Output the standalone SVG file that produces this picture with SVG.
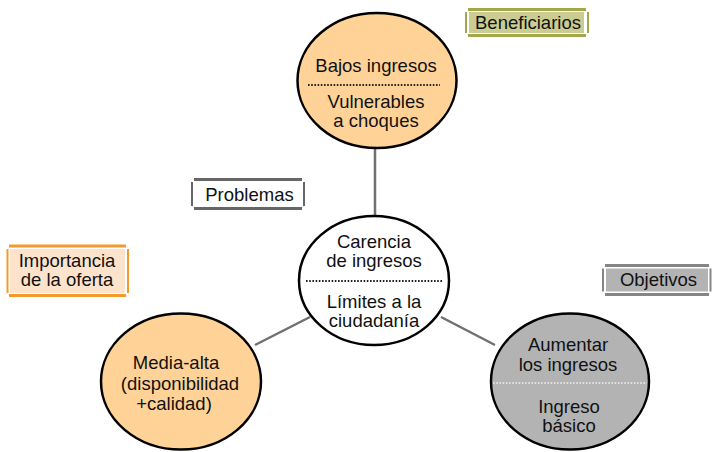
<svg xmlns="http://www.w3.org/2000/svg" width="713" height="452" viewBox="0 0 713 452">
<style>
text{font-family:"Liberation Sans",Arial,sans-serif;font-size:18.5px;fill:#111;text-anchor:middle}
.ell{stroke:#000;stroke-width:2.5}
.orange{fill:#FFD398}
.gray{fill:#B3B3B3}
.white{fill:#fff}
.dots{stroke:#222;stroke-width:2;stroke-dasharray:1.6 1.6;fill:none}
.dotsw{stroke:#E0E0E0;stroke-width:2;stroke-dasharray:1.6 1.6;fill:none}
.conn{stroke:#707070;stroke-width:2.5;fill:none}
.tb{stroke-width:3;fill:none}
.sd{stroke-width:2;fill:none}
</style>
<g id="connectors">
<line class="conn" x1="375" y1="148" x2="375" y2="216"/>
<line class="conn" x1="255" y1="345" x2="310" y2="317"/>
<line class="conn" x1="441" y1="317" x2="495" y2="345"/>
</g>
<g id="node-top">
<ellipse class="ell orange" cx="377" cy="80.5" rx="79.5" ry="67.5"/>
<line class="dots" x1="308" y1="85" x2="440" y2="85"/>
<text x="376" y="72">Bajos ingresos</text>
<text x="376" y="108">Vulnerables</text>
<text x="376" y="127">a choques</text>
</g>
<g id="node-center">
<ellipse class="ell white" cx="374" cy="280.5" rx="75" ry="64.5"/>
<line class="dots" x1="306" y1="281" x2="442" y2="281"/>
<text x="374" y="248">Carencia</text>
<text x="374" y="267">de ingresos</text>
<text x="374" y="308">Límites a la</text>
<text x="374" y="327">ciudadanía</text>
</g>
<g id="node-left">
<ellipse class="ell orange" cx="181" cy="381.5" rx="80" ry="68"/>
<text x="176" y="369">Media-alta</text>
<text x="180" y="390">(disponibilidad</text>
<text x="174" y="410">+calidad)</text>
</g>
<g id="node-right">
<ellipse class="ell gray" cx="570" cy="381.5" rx="79" ry="68"/>
<line class="dotsw" x1="493" y1="383" x2="647" y2="383"/>
<text x="568" y="351">Aumentar</text>
<text x="568" y="371">los ingresos</text>
<text x="569" y="413">Ingreso</text>
<text x="569" y="432">básico</text>
</g>
<g id="label-beneficiarios">
<rect x="469" y="12" width="115" height="21" fill="#CACC92"/>
<g stroke="#A4A64A">
<line class="tb" x1="468" y1="9.5" x2="586" y2="9.5"/>
<line class="tb" x1="468" y1="35.5" x2="586" y2="35.5"/>
<line class="sd" x1="466" y1="12" x2="466" y2="33"/>
<line class="sd" x1="588" y1="12" x2="588" y2="33"/>
</g>
<text x="528" y="29">Beneficiarios</text>
</g>
<g id="label-problemas">
<rect x="195" y="182" width="106" height="24" fill="#fff"/>
<g stroke="#666">
<line class="tb" x1="194" y1="179.5" x2="302" y2="179.5"/>
<line class="tb" x1="194" y1="208.5" x2="302" y2="208.5"/>
<line class="sd" x1="192" y1="182" x2="192" y2="206"/>
<line class="sd" x1="304" y1="182" x2="304" y2="206"/>
</g>
<text x="249.5" y="201">Problemas</text>
</g>
<g id="label-importancia">
<rect x="10" y="249" width="115" height="44" fill="#FDE3CB"/>
<g stroke="#F49A2A">
<line class="tb" x1="9" y1="246" x2="126" y2="246"/>
<line class="tb" x1="9" y1="295.5" x2="126" y2="295.5"/>
<line class="sd" x1="7.5" y1="249" x2="7.5" y2="293"/>
<line class="sd" x1="128" y1="249" x2="128" y2="293"/>
</g>
<text x="67" y="267">Importancia</text>
<text x="67" y="286">de la oferta</text>
</g>
<g id="label-objetivos">
<rect x="606" y="268.5" width="102" height="23" fill="#B3B3B3"/>
<g stroke="#858585">
<line class="tb" x1="605" y1="265.5" x2="709" y2="265.5"/>
<line class="tb" x1="605" y1="294.5" x2="709" y2="294.5"/>
<line class="sd" x1="603" y1="268.5" x2="603" y2="291.5"/>
<line class="sd" x1="710.5" y1="268.5" x2="710.5" y2="291.5"/>
</g>
<text x="658.5" y="286">Objetivos</text>
</g>
</svg>
